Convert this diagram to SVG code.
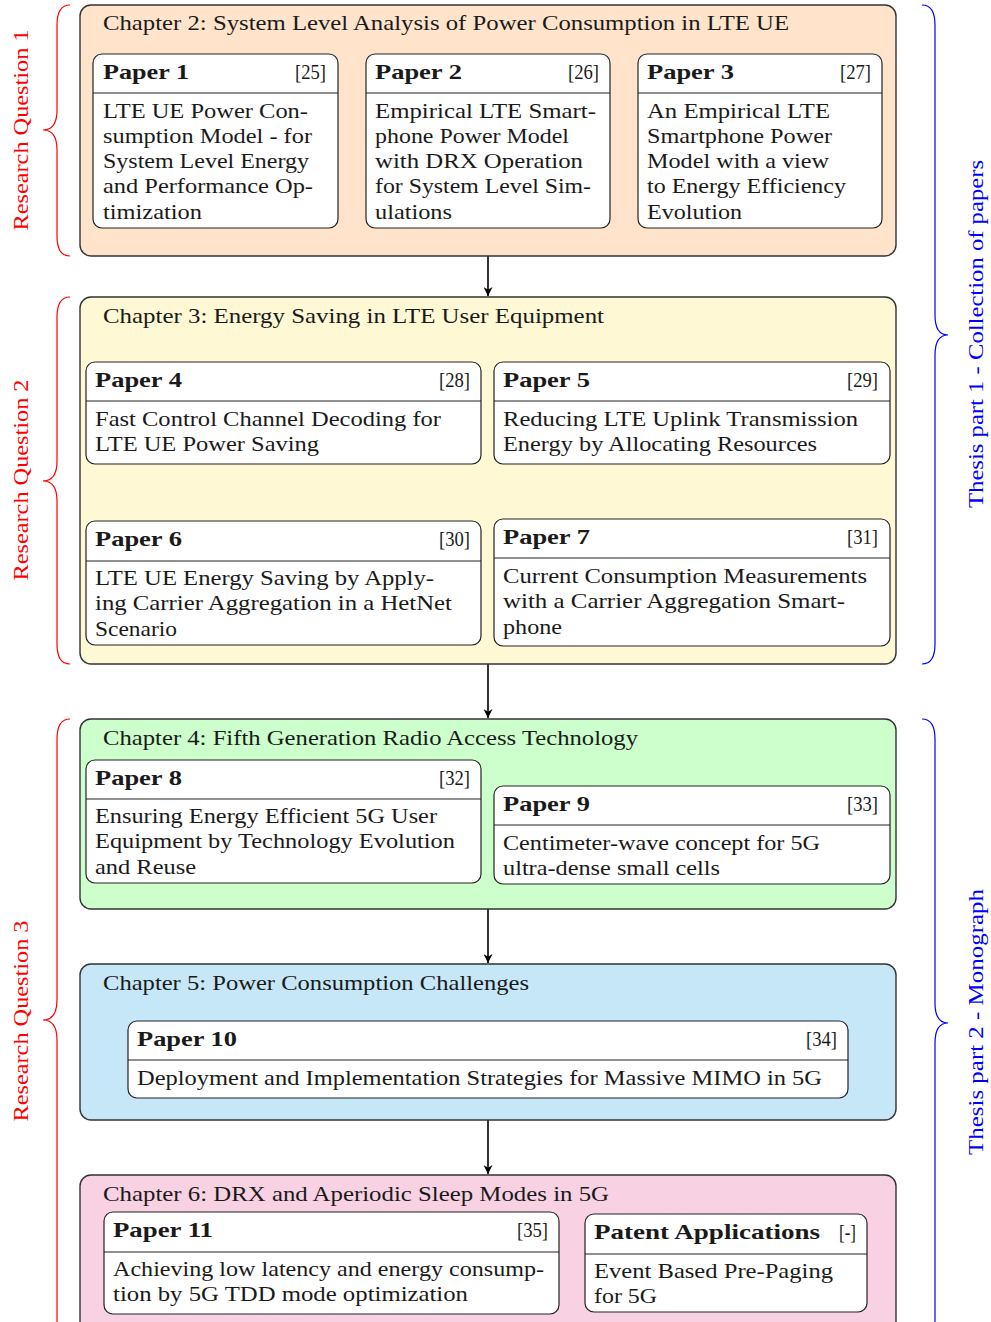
<svg xmlns="http://www.w3.org/2000/svg" width="991" height="1322" viewBox="0 0 991 1322" font-family="'Liberation Serif','DejaVu Serif',serif">
<defs>
<style>
text{font-family:"Liberation Serif","DejaVu Serif",serif;font-size:22px;fill:#1a1a1a}
.b{font-weight:bold}
.ch{stroke:#333;stroke-width:1.4}
.p{fill:#fff;stroke:#222;stroke-width:1.2}
.hl{stroke:#222;stroke-width:1.2}
.rq{fill:#ff0000}
.tp{fill:#0000ff}
.br{fill:none;stroke-width:1.2}
.arr{stroke:#000;stroke-width:1.6;fill:none}
</style>
<marker id="ah" viewBox="0 0 10 10" refX="10" refY="5" markerWidth="9" markerHeight="9" markerUnits="userSpaceOnUse" orient="auto">
<path d="M0,0 L10,5 L0,10 L3,5 Z" fill="#000"/>
</marker>
</defs>
<rect width="991" height="1322" fill="#fff"/>

<g id="braces">
<path class="br" stroke="#ff0000" d="M70,5 Q57,5 57,25 L57,110 Q57,130 43,130 Q57,130 57,150 L57,236 Q57,256 70,256"/>
<path class="br" stroke="#ff0000" d="M70,297 Q57,297 57,317 L57,461 Q57,481 43,481 Q57,481 57,501 L57,644 Q57,664 70,664"/>
<path class="br" stroke="#ff0000" d="M70,719 Q57,719 57,739 L57,1000 Q57,1020 43,1020 Q57,1020 57,1040 L57,1320 Q57,1340 70,1340"/>
<path class="br" stroke="#0000ff" d="M922,5 Q935,5 935,25 L935,315 Q935,335 948,335 Q935,335 935,355 L935,644 Q935,664 922,664"/>
<path class="br" stroke="#0000ff" d="M922,719 Q935,719 935,739 L935,1003 Q935,1023 948,1023 Q935,1023 935,1043 L935,1320 Q935,1340 922,1340"/>
<text class="rq" transform="translate(28,130) rotate(-90)" text-anchor="middle" textLength="201" lengthAdjust="spacingAndGlyphs">Research Question 1</text>
<text class="rq" transform="translate(28,480) rotate(-90)" text-anchor="middle" textLength="201" lengthAdjust="spacingAndGlyphs">Research Question 2</text>
<text class="rq" transform="translate(28,1021) rotate(-90)" text-anchor="middle" textLength="201" lengthAdjust="spacingAndGlyphs">Research Question 3</text>
<text class="tp" transform="translate(983,334) rotate(-90)" text-anchor="middle" textLength="348" lengthAdjust="spacingAndGlyphs">Thesis part 1 - Collection of papers</text>
<text class="tp" transform="translate(983,1022) rotate(-90)" text-anchor="middle" textLength="266" lengthAdjust="spacingAndGlyphs">Thesis part 2 - Monograph</text>
</g>

<g id="connectors">
<line class="arr" x1="488" y1="256" x2="488" y2="296" marker-end="url(#ah)"/>
<line class="arr" x1="488" y1="664" x2="488" y2="718" marker-end="url(#ah)"/>
<line class="arr" x1="488" y1="909" x2="488" y2="963" marker-end="url(#ah)"/>
<line class="arr" x1="488" y1="1120" x2="488" y2="1174" marker-end="url(#ah)"/>
</g>

<g id="chapter2">
<rect class="ch" x="80" y="5" width="816" height="251" rx="11" fill="#ffe4cb"/>
<text x="103" y="30" textLength="686" lengthAdjust="spacingAndGlyphs">Chapter 2: System Level Analysis of Power Consumption in LTE UE</text>
</g>
<g id="paper1">
<rect class="p" x="93" y="54" width="245" height="174" rx="9"/>
<line class="hl" x1="93" y1="93" x2="338" y2="93"/>
<text class="b" x="103" y="79" textLength="86" lengthAdjust="spacingAndGlyphs">Paper 1</text>
<text x="326" y="79" text-anchor="end" textLength="31" lengthAdjust="spacingAndGlyphs">[25]</text>
<text x="103" y="118" textLength="205" lengthAdjust="spacingAndGlyphs">LTE UE Power Con-</text>
<text x="103" y="143" textLength="209" lengthAdjust="spacingAndGlyphs">sumption Model - for</text>
<text x="103" y="168" textLength="206" lengthAdjust="spacingAndGlyphs">System Level Energy</text>
<text x="103" y="193" textLength="210" lengthAdjust="spacingAndGlyphs">and Performance Op-</text>
<text x="103" y="219" textLength="99" lengthAdjust="spacingAndGlyphs">timization</text>
</g>
<g id="paper2">
<rect class="p" x="366" y="54" width="244" height="174" rx="9"/>
<line class="hl" x1="366" y1="93" x2="610" y2="93"/>
<text class="b" x="375" y="79" textLength="87" lengthAdjust="spacingAndGlyphs">Paper 2</text>
<text x="599" y="79" text-anchor="end" textLength="31" lengthAdjust="spacingAndGlyphs">[26]</text>
<text x="375" y="118" textLength="221" lengthAdjust="spacingAndGlyphs">Empirical LTE Smart-</text>
<text x="375" y="143" textLength="194" lengthAdjust="spacingAndGlyphs">phone Power Model</text>
<text x="375" y="168" textLength="208" lengthAdjust="spacingAndGlyphs">with DRX Operation</text>
<text x="375" y="193" textLength="216" lengthAdjust="spacingAndGlyphs">for System Level Sim-</text>
<text x="375" y="219" textLength="77" lengthAdjust="spacingAndGlyphs">ulations</text>
</g>
<g id="paper3">
<rect class="p" x="638" y="54" width="244" height="174" rx="9"/>
<line class="hl" x1="638" y1="93" x2="882" y2="93"/>
<text class="b" x="647" y="79" textLength="87" lengthAdjust="spacingAndGlyphs">Paper 3</text>
<text x="871" y="79" text-anchor="end" textLength="31" lengthAdjust="spacingAndGlyphs">[27]</text>
<text x="647" y="118" textLength="183" lengthAdjust="spacingAndGlyphs">An Empirical LTE</text>
<text x="647" y="143" textLength="185" lengthAdjust="spacingAndGlyphs">Smartphone Power</text>
<text x="647" y="168" textLength="182" lengthAdjust="spacingAndGlyphs">Model with a view</text>
<text x="647" y="193" textLength="199" lengthAdjust="spacingAndGlyphs">to Energy Efficiency</text>
<text x="647" y="219" textLength="95" lengthAdjust="spacingAndGlyphs">Evolution</text>
</g>

<g id="chapter3">
<rect class="ch" x="80" y="297" width="816" height="367" rx="11" fill="#fff8d4"/>
<text x="103" y="323" textLength="501" lengthAdjust="spacingAndGlyphs">Chapter 3: Energy Saving in LTE User Equipment</text>
</g>
<g id="paper4">
<rect class="p" x="86" y="362" width="395" height="102" rx="9"/>
<line class="hl" x1="86" y1="401" x2="481" y2="401"/>
<text class="b" x="95" y="387" textLength="87" lengthAdjust="spacingAndGlyphs">Paper 4</text>
<text x="470" y="387" text-anchor="end" textLength="31" lengthAdjust="spacingAndGlyphs">[28]</text>
<text x="95" y="426" textLength="346" lengthAdjust="spacingAndGlyphs">Fast Control Channel Decoding for</text>
<text x="95" y="451" textLength="224" lengthAdjust="spacingAndGlyphs">LTE UE Power Saving</text>
</g>
<g id="paper5">
<rect class="p" x="494" y="362" width="396" height="102" rx="9"/>
<line class="hl" x1="494" y1="401" x2="890" y2="401"/>
<text class="b" x="503" y="387" textLength="87" lengthAdjust="spacingAndGlyphs">Paper 5</text>
<text x="878" y="387" text-anchor="end" textLength="31" lengthAdjust="spacingAndGlyphs">[29]</text>
<text x="503" y="426" textLength="355" lengthAdjust="spacingAndGlyphs">Reducing LTE Uplink Transmission</text>
<text x="503" y="451" textLength="314" lengthAdjust="spacingAndGlyphs">Energy by Allocating Resources</text>
</g>
<g id="paper6">
<rect class="p" x="86" y="521" width="395" height="124" rx="9"/>
<line class="hl" x1="86" y1="561" x2="481" y2="561"/>
<text class="b" x="95" y="546" textLength="87" lengthAdjust="spacingAndGlyphs">Paper 6</text>
<text x="470" y="546" text-anchor="end" textLength="31" lengthAdjust="spacingAndGlyphs">[30]</text>
<text x="95" y="585" textLength="339" lengthAdjust="spacingAndGlyphs">LTE UE Energy Saving by Apply-</text>
<text x="95" y="610" textLength="357" lengthAdjust="spacingAndGlyphs">ing Carrier Aggregation in a HetNet</text>
<text x="95" y="636" textLength="82" lengthAdjust="spacingAndGlyphs">Scenario</text>
</g>
<g id="paper7">
<rect class="p" x="494" y="519" width="396" height="127" rx="9"/>
<line class="hl" x1="494" y1="558" x2="890" y2="558"/>
<text class="b" x="503" y="544" textLength="87" lengthAdjust="spacingAndGlyphs">Paper 7</text>
<text x="878" y="544" text-anchor="end" textLength="31" lengthAdjust="spacingAndGlyphs">[31]</text>
<text x="503" y="583" textLength="364" lengthAdjust="spacingAndGlyphs">Current Consumption Measurements</text>
<text x="503" y="608" textLength="342" lengthAdjust="spacingAndGlyphs">with a Carrier Aggregation Smart-</text>
<text x="503" y="634" textLength="59" lengthAdjust="spacingAndGlyphs">phone</text>
</g>

<g id="chapter4">
<rect class="ch" x="80" y="719" width="816" height="190" rx="11" fill="#ccffcc"/>
<text x="103" y="745" textLength="535" lengthAdjust="spacingAndGlyphs">Chapter 4: Fifth Generation Radio Access Technology</text>
</g>
<g id="paper8">
<rect class="p" x="86" y="760" width="395" height="123" rx="9"/>
<line class="hl" x1="86" y1="799" x2="481" y2="799"/>
<text class="b" x="95" y="785" textLength="87" lengthAdjust="spacingAndGlyphs">Paper 8</text>
<text x="470" y="785" text-anchor="end" textLength="31" lengthAdjust="spacingAndGlyphs">[32]</text>
<text x="95" y="823" textLength="342" lengthAdjust="spacingAndGlyphs">Ensuring Energy Efficient 5G User</text>
<text x="95" y="848" textLength="360" lengthAdjust="spacingAndGlyphs">Equipment by Technology Evolution</text>
<text x="95" y="874" textLength="101" lengthAdjust="spacingAndGlyphs">and Reuse</text>
</g>
<g id="paper9">
<rect class="p" x="494" y="786" width="396" height="98" rx="9"/>
<line class="hl" x1="494" y1="825" x2="890" y2="825"/>
<text class="b" x="503" y="811" textLength="87" lengthAdjust="spacingAndGlyphs">Paper 9</text>
<text x="878" y="811" text-anchor="end" textLength="31" lengthAdjust="spacingAndGlyphs">[33]</text>
<text x="503" y="850" textLength="317" lengthAdjust="spacingAndGlyphs">Centimeter-wave concept for 5G</text>
<text x="503" y="875" textLength="217" lengthAdjust="spacingAndGlyphs">ultra-dense small cells</text>
</g>

<g id="chapter5">
<rect class="ch" x="80" y="964" width="816" height="156" rx="11" fill="#c5e7f8"/>
<text x="103" y="990" textLength="426" lengthAdjust="spacingAndGlyphs">Chapter 5: Power Consumption Challenges</text>
</g>
<g id="paper10">
<rect class="p" x="128" y="1021" width="720" height="77" rx="9"/>
<line class="hl" x1="128" y1="1060" x2="848" y2="1060"/>
<text class="b" x="137" y="1046" textLength="100" lengthAdjust="spacingAndGlyphs">Paper 10</text>
<text x="837" y="1046" text-anchor="end" textLength="31" lengthAdjust="spacingAndGlyphs">[34]</text>
<text x="137" y="1085" textLength="685" lengthAdjust="spacingAndGlyphs">Deployment and Implementation Strategies for Massive MIMO in 5G</text>
</g>

<g id="chapter6">
<rect class="ch" x="80" y="1175" width="816" height="170" rx="11" fill="#f8d2e3"/>
<text x="103" y="1201" textLength="506" lengthAdjust="spacingAndGlyphs">Chapter 6: DRX and Aperiodic Sleep Modes in 5G</text>
</g>
<g id="paper11">
<rect class="p" x="104" y="1212" width="455" height="102" rx="9"/>
<line class="hl" x1="104" y1="1252" x2="559" y2="1252"/>
<text class="b" x="113" y="1237" textLength="100" lengthAdjust="spacingAndGlyphs">Paper 11</text>
<text x="548" y="1237" text-anchor="end" textLength="31" lengthAdjust="spacingAndGlyphs">[35]</text>
<text x="113" y="1276" textLength="431" lengthAdjust="spacingAndGlyphs">Achieving low latency and energy consump-</text>
<text x="113" y="1301" textLength="355" lengthAdjust="spacingAndGlyphs">tion by 5G TDD mode optimization</text>
</g>
<g id="patent">
<rect class="p" x="585" y="1214" width="282" height="98" rx="9"/>
<line class="hl" x1="585" y1="1254" x2="867" y2="1254"/>
<text class="b" x="594" y="1239" textLength="226" lengthAdjust="spacingAndGlyphs">Patent Applications</text>
<text x="856" y="1239" text-anchor="end" textLength="17" lengthAdjust="spacingAndGlyphs">[-]</text>
<text x="594" y="1278" textLength="239" lengthAdjust="spacingAndGlyphs">Event Based Pre-Paging</text>
<text x="594" y="1303" textLength="63" lengthAdjust="spacingAndGlyphs">for 5G</text>
</g>
</svg>
